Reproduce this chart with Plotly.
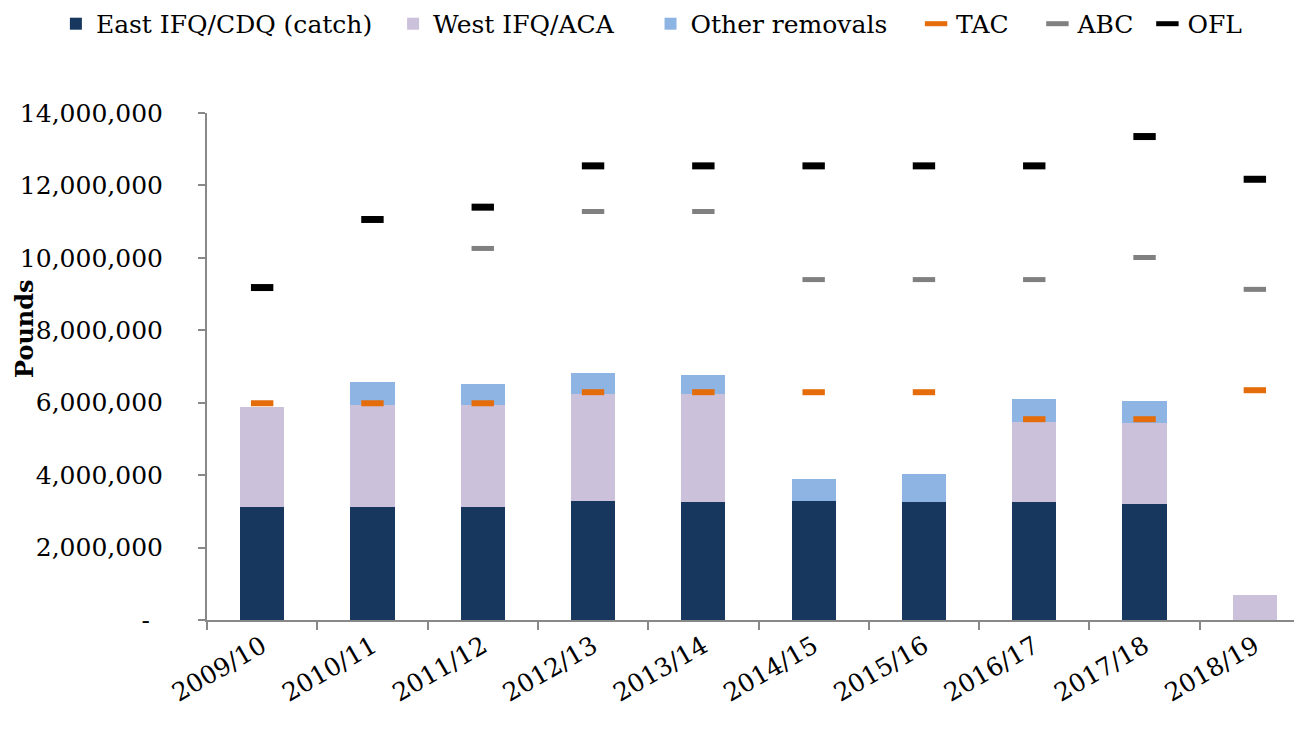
import plotly.graph_objects as go

# Season labels and series (pounds)
seasons = ["2009/10", "2010/11", "2011/12", "2012/13", "2013/14",
           "2014/15", "2015/16", "2016/17", "2017/18", "2018/19"]
east_catch = [3120000, 3120000, 3120000, 3290000, 3270000,
              3290000, 3270000, 3270000, 3210000, 0]
west_aca = [2750000, 2810000, 2810000, 2940000, 2980000,
            0, 0, 2210000, 2240000, 700000]
other_removals = [0, 640000, 580000, 590000, 510000,
                  590000, 760000, 610000, 610000, 0]
tac = [5985000, 5985000, 5985000, 6290000, 6290000,
       6290000, 6290000, 5545000, 5545000, 6345000]
abc = [None, None, 10260000, 11280000, 11280000,
       9400000, 9400000, 9400000, 10010000, 9130000]
ofl = [9180000, 11060000, 11400000, 12540000, 12540000,
       12540000, 12540000, 12540000, 13350000, 12170000]

y_ticks = [0, 2000000, 4000000, 6000000, 8000000, 10000000, 12000000, 14000000]
y_ticktext = ["-\u00a0\u2009"] + [f"{v:,}" for v in y_ticks[1:]]

FONT = "DejaVu Serif"


def pad(n):
    # extra room between legend entries
    return "\u00a0" * n


fig = go.Figure()

# stacked bars
fig.add_trace(go.Bar(x=seasons, y=east_catch, name="East IFQ/CDQ (catch)" + pad(2),
                     marker=dict(color="#17375E", line=dict(width=0))))
fig.add_trace(go.Bar(x=seasons, y=west_aca, name="West IFQ/ACA" + pad(4),
                     marker=dict(color="#CCC1DA", line=dict(width=0))))
fig.add_trace(go.Bar(x=seasons, y=other_removals, name="Other removals" + pad(3),
                     marker=dict(color="#8EB4E3", line=dict(width=0))))

# dash markers for the limits
fig.add_trace(go.Scatter(x=seasons, y=tac, name="TAC" + pad(3), mode="markers",
                         marker=dict(symbol="line-ew", size=16,
                                     line=dict(color="#E46C0A", width=6))))
fig.add_trace(go.Scatter(x=seasons, y=abc, name="ABC" + pad(1), mode="markers",
                         marker=dict(symbol="line-ew", size=16,
                                     line=dict(color="#808080", width=5))))
fig.add_trace(go.Scatter(x=seasons, y=ofl, name="OFL", mode="markers",
                         marker=dict(symbol="line-ew", size=16,
                                     line=dict(color="#000000", width=7))))

# page body adds an 8px offset, margins allow for it
fig.update_layout(
    barmode="stack",
    bargap=0.6,
    width=1302, height=730,
    margin=dict(l=199, r=0, t=105, b=118, autoexpand=False),
    paper_bgcolor="white",
    plot_bgcolor="white",
    font=dict(family=FONT, size=24, color="#000000"),
    showlegend=True,
    legend=dict(orientation="h", xref="paper", yref="paper",
                x=-0.137, y=1.221, xanchor="left", yanchor="top",
                traceorder="normal",
                font=dict(family=FONT, size=25), itemwidth=30,
                bgcolor="rgba(0,0,0,0)"),
    annotations=[dict(text="<b>Pounds</b>", xref="paper", yref="paper",
                      x=-0.165, y=0.574, xanchor="center", yanchor="middle",
                      textangle=-90, showarrow=False,
                      font=dict(family=FONT, size=24))],
)

fig.update_xaxes(
    type="category",
    range=[-0.5, 9.5],
    automargin=False,
    showline=True, linecolor="#888888", linewidth=2,
    ticks="outside", tickson="boundaries", ticklen=8,
    tickcolor="#888888", tickwidth=2,
    tickangle=-30,
    tickfont=dict(family=FONT, size=25),
    showgrid=False,
)

fig.update_yaxes(
    range=[0, 14000000],
    automargin=False,
    tickvals=y_ticks, ticktext=y_ticktext,
    showline=True, linecolor="#888888", linewidth=2,
    ticks="outside", ticklen=7, tickcolor="#888888", tickwidth=2,
    ticklabelstandoff=30,
    tickfont=dict(family=FONT, size=25),
    showgrid=False, zeroline=False,
)

fig.write_html("out.html")
